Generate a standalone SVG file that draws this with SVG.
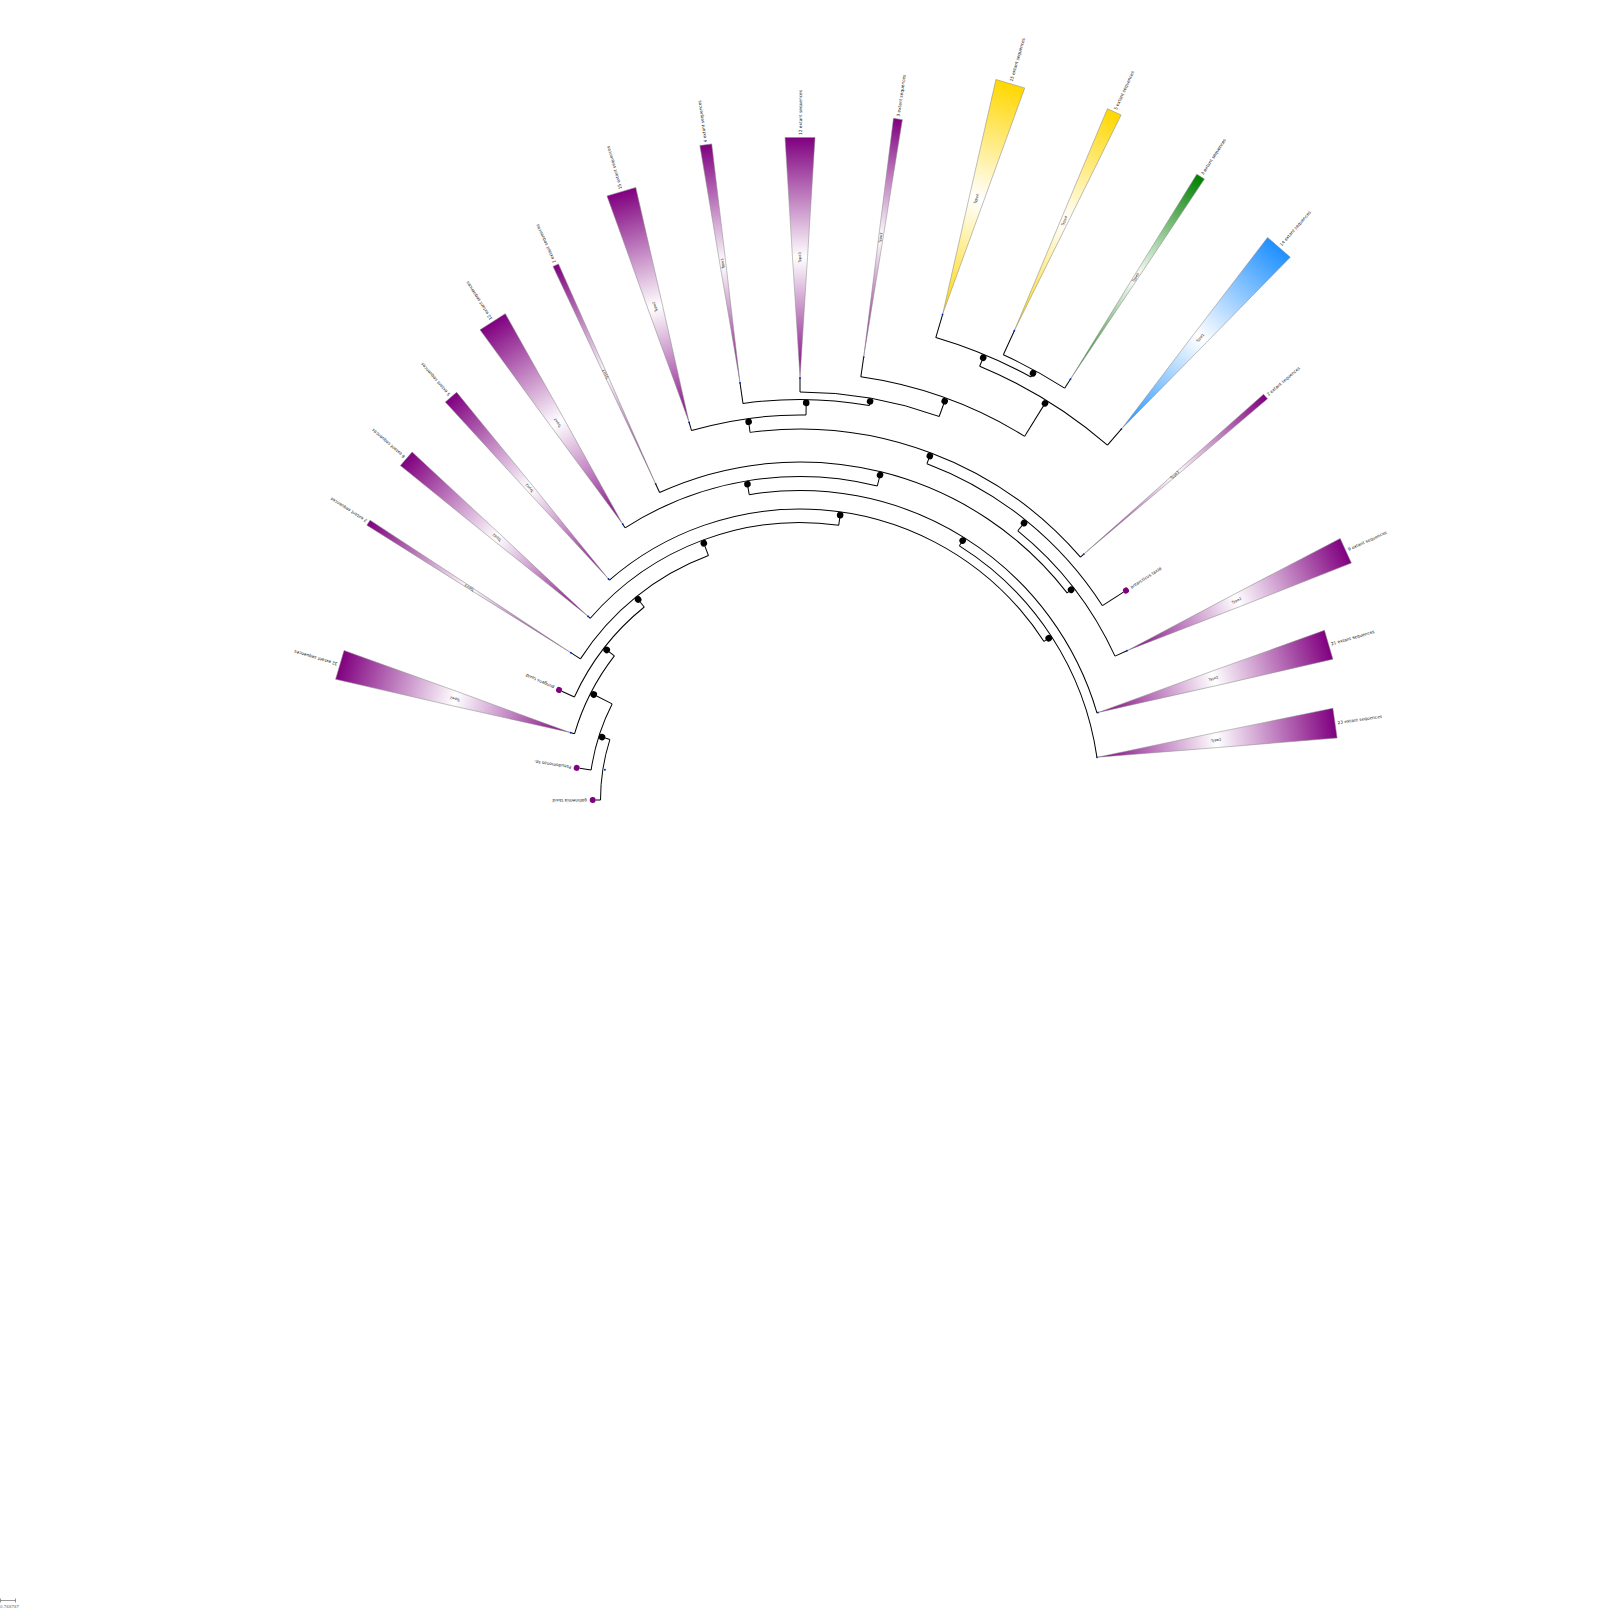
<svg xmlns="http://www.w3.org/2000/svg" width="1600" height="1614" viewBox="0 0 1600 1614">
<defs>
<style>
.arc{fill:none;stroke:#000;stroke-width:1}
.br{stroke:#000;stroke-width:1}
.nd{fill:#000}
.lf{fill:#800080}
.tip{fill:#0030c1}
.tri{stroke:#8a8a8a;stroke-width:0.5}
.lab{font-family:"DejaVu Sans",sans-serif;font-size:4.3px;fill:#222;dominant-baseline:central}
.typ{font-family:"DejaVu Sans",sans-serif;font-size:3.5px;fill:#222;text-anchor:middle;dominant-baseline:central}
</style>
<linearGradient id="gP"><stop offset="0" stop-color="#800080"/><stop offset="0.5" stop-color="#fff"/><stop offset="1" stop-color="#800080"/></linearGradient>
<linearGradient id="gY"><stop offset="0" stop-color="#ffd700"/><stop offset="0.5" stop-color="#fff"/><stop offset="1" stop-color="#ffd700"/></linearGradient>
<linearGradient id="gG"><stop offset="0" stop-color="#008000"/><stop offset="0.5" stop-color="#fff"/><stop offset="1" stop-color="#008000"/></linearGradient>
<linearGradient id="gB"><stop offset="0" stop-color="#1e90ff"/><stop offset="0.5" stop-color="#fff"/><stop offset="1" stop-color="#1e90ff"/></linearGradient>
</defs>
<rect width="1600" height="1614" fill="#fff"/>

<g id="connectors">
<circle class="arc" cx="800" cy="800" r="199.5" stroke-dasharray="61.41 4000" transform="rotate(180 800 800)"/>
<circle class="arc" cx="800" cy="800" r="211" stroke-dasharray="69.64 4000" transform="rotate(188.182 800 800)"/>
<circle class="arc" cx="800" cy="800" r="235" stroke-dasharray="88.01 4000" transform="rotate(196.364 800 800)"/>
<circle class="arc" cx="800" cy="800" r="248" stroke-dasharray="114.93 4000" transform="rotate(204.545 800 800)"/>
<circle class="arc" cx="800" cy="800" r="261" stroke-dasharray="167.36 4000" transform="rotate(212.727 800 800)"/>
<circle class="arc" cx="800" cy="800" r="277.5" stroke-dasharray="276.62 4000" transform="rotate(220.909 800 800)"/>
<circle class="arc" cx="800" cy="800" r="291" stroke-dasharray="497.05 4000" transform="rotate(229.091 800 800)"/>
<circle class="arc" cx="800" cy="800" r="300" stroke-dasharray="260.35 4000" transform="rotate(302.095 800 800)"/>
<circle class="arc" cx="800" cy="800" r="309.5" stroke-dasharray="448.79 4000" transform="rotate(260.554 800 800)"/>
<circle class="arc" cx="800" cy="800" r="323.5" stroke-dasharray="262.90 4000" transform="rotate(237.273 800 800)"/>
<circle class="arc" cx="800" cy="800" r="338" stroke-dasharray="452.82 4000" transform="rotate(245.455 800 800)"/>
<circle class="arc" cx="800" cy="800" r="346.3" stroke-dasharray="160.04 4000" transform="rotate(308.976 800 800)"/>
<circle class="arc" cx="800" cy="800" r="359.5" stroke-dasharray="229.61 4000" transform="rotate(290.678 800 800)"/>
<circle class="arc" cx="800" cy="800" r="371" stroke-dasharray="367.95 4000" transform="rotate(262.266 800 800)"/>
<circle class="arc" cx="800" cy="800" r="385" stroke-dasharray="115.97 4000" transform="rotate(253.636 800 800)"/>
<circle class="arc" cx="800" cy="800" r="400.5" stroke-dasharray="126.90 4000" transform="rotate(261.818 800 800)"/>
<circle class="arc" cx="800" cy="800" r="408" stroke-dasharray="142.01 4000" transform="rotate(270 800 800)"/>
<circle class="arc" cx="800" cy="800" r="427.5" stroke-dasharray="175.51 4000" transform="rotate(278.182 800 800)"/>
<circle class="arc" cx="800" cy="800" r="469.5" stroke-dasharray="150.85 4000" transform="rotate(292.5 800 800)"/>
<circle class="arc" cx="800" cy="800" r="482" stroke-dasharray="103.24 4000" transform="rotate(286.364 800 800)"/>
<circle class="arc" cx="800" cy="800" r="489.5" stroke-dasharray="69.90 4000" transform="rotate(294.545 800 800)"/>

<line class="br" x1="999.5" y1="800" x2="1007.7" y2="800" transform="rotate(197.637 800 800)"/>
<line class="br" x1="1011" y1="800" x2="1031.7" y2="800" transform="rotate(207.092 800 800)"/>
<line class="br" x1="1035" y1="800" x2="1044.7" y2="800" transform="rotate(217.821 800 800)"/>
<line class="br" x1="1048" y1="800" x2="1057.7" y2="800" transform="rotate(231.097 800 800)"/>
<line class="br" x1="1061" y1="800" x2="1074.2" y2="800" transform="rotate(249.466 800 800)"/>
<line class="br" x1="1077.5" y1="800" x2="1087.7" y2="800" transform="rotate(278.024 800 800)"/>
<line class="br" x1="1091" y1="800" x2="1096.7" y2="800" transform="rotate(326.957 800 800)"/>
<line class="br" x1="1100" y1="800" x2="1106.2" y2="800" transform="rotate(302.095 800 800)"/>
<line class="br" x1="1109.5" y1="800" x2="1120.2" y2="800" transform="rotate(260.554 800 800)"/>
<line class="br" x1="1123.5" y1="800" x2="1134.7" y2="800" transform="rotate(283.835 800 800)"/>
<line class="br" x1="1138" y1="800" x2="1143" y2="800" transform="rotate(322.215 800 800)"/>
<line class="br" x1="1146.3" y1="800" x2="1156.2" y2="800" transform="rotate(308.976 800 800)"/>
<line class="br" x1="1159.5" y1="800" x2="1167.7" y2="800" transform="rotate(290.678 800 800)"/>
<line class="br" x1="1171" y1="800" x2="1181.7" y2="800" transform="rotate(262.266 800 800)"/>
<line class="br" x1="1185" y1="800" x2="1197.2" y2="800" transform="rotate(270.895 800 800)"/>
<line class="br" x1="1200.5" y1="800" x2="1204.7" y2="800" transform="rotate(279.972 800 800)"/>
<line class="br" x1="1208" y1="800" x2="1224.2" y2="800" transform="rotate(289.943 800 800)"/>
<line class="br" x1="1227.5" y1="800" x2="1266.2" y2="800" transform="rotate(301.705 800 800)"/>
<line class="br" x1="1269.5" y1="800" x2="1278.7" y2="800" transform="rotate(292.5 800 800)"/>
<line class="br" x1="1282" y1="800" x2="1286.2" y2="800" transform="rotate(298.636 800 800)"/>

<line class="br" x1="999.5" y1="800" x2="1004.3" y2="800" transform="rotate(180 800 800)"/>
<line class="br" x1="1011" y1="800" x2="1022.6" y2="800" transform="rotate(188.182 800 800)"/>
<line class="br" x1="1035" y1="800" x2="1039.6" y2="800" transform="rotate(196.364 800 800)"/>
<line class="br" x1="1048" y1="800" x2="1061.9" y2="800" transform="rotate(204.545 800 800)"/>
<line class="br" x1="1061" y1="800" x2="1073" y2="800" transform="rotate(212.727 800 800)"/>
<line class="br" x1="1077.5" y1="800" x2="1081" y2="800" transform="rotate(220.909 800 800)"/>
<line class="br" x1="1091" y1="800" x2="1093" y2="800" transform="rotate(229.091 800 800)"/>
<line class="br" x1="1123.5" y1="800" x2="1128.5" y2="800" transform="rotate(237.273 800 800)"/>
<line class="br" x1="1138" y1="800" x2="1148" y2="800" transform="rotate(245.455 800 800)"/>
<line class="br" x1="1185" y1="800" x2="1194" y2="800" transform="rotate(253.636 800 800)"/>
<line class="br" x1="1200.5" y1="800" x2="1222" y2="800" transform="rotate(261.818 800 800)"/>
<line class="br" x1="1208" y1="800" x2="1222.5" y2="800" transform="rotate(270 800 800)"/>
<line class="br" x1="1227.5" y1="800" x2="1248" y2="800" transform="rotate(278.182 800 800)"/>
<line class="br" x1="1282" y1="800" x2="1306.5" y2="800" transform="rotate(286.364 800 800)"/>
<line class="br" x1="1289.5" y1="800" x2="1316.5" y2="800" transform="rotate(294.545 800 800)"/>
<line class="br" x1="1289.5" y1="800" x2="1301" y2="800" transform="rotate(302.727 800 800)"/>
<line class="br" x1="1269.5" y1="800" x2="1291.3" y2="800" transform="rotate(310.909 800 800)"/>
<line class="br" x1="1171" y1="800" x2="1176" y2="800" transform="rotate(319.091 800 800)"/>
<line class="br" x1="1159.5" y1="800" x2="1184.5" y2="800" transform="rotate(327.273 800 800)"/>
<line class="br" x1="1146.3" y1="800" x2="1160" y2="800" transform="rotate(335.455 800 800)"/>
<line class="br" x1="1109.5" y1="800" x2="1111" y2="800" transform="rotate(343.636 800 800)"/>
<line class="br" x1="1100" y1="800" x2="1100.5" y2="800" transform="rotate(351.818 800 800)"/>
</g>

<g id="internal-nodes">
<circle id="root" class="tip" cx="997.5" cy="800" r="1" transform="rotate(188.818 800 800)"/>
<circle id="n1" class="nd" cx="1007.7" cy="800" r="3.3" transform="rotate(197.637 800 800)"/>
<circle id="n2" class="nd" cx="1031.7" cy="800" r="3.3" transform="rotate(207.092 800 800)"/>
<circle id="n3" class="nd" cx="1044.7" cy="800" r="3.3" transform="rotate(217.821 800 800)"/>
<circle id="n4" class="nd" cx="1057.7" cy="800" r="3.3" transform="rotate(231.097 800 800)"/>
<circle id="n5" class="nd" cx="1074.2" cy="800" r="3.3" transform="rotate(249.466 800 800)"/>
<circle id="n6" class="nd" cx="1087.7" cy="800" r="3.3" transform="rotate(278.024 800 800)"/>
<circle id="n20" class="nd" cx="1096.7" cy="800" r="3.3" transform="rotate(326.957 800 800)"/>
<circle id="n19" class="nd" cx="1106.2" cy="800" r="3.3" transform="rotate(302.095 800 800)"/>
<circle id="n7" class="nd" cx="1120.2" cy="800" r="3.3" transform="rotate(260.554 800 800)"/>
<circle id="n8" class="nd" cx="1134.7" cy="800" r="3.3" transform="rotate(283.835 800 800)"/>
<circle id="n18" class="nd" cx="1143" cy="800" r="3.3" transform="rotate(322.215 800 800)"/>
<circle id="n17" class="nd" cx="1156.2" cy="800" r="3.3" transform="rotate(308.976 800 800)"/>
<circle id="n16" class="nd" cx="1167.7" cy="800" r="3.3" transform="rotate(290.678 800 800)"/>
<circle id="n9" class="nd" cx="1181.7" cy="800" r="3.3" transform="rotate(262.266 800 800)"/>
<circle id="n10" class="nd" cx="1197.2" cy="800" r="3.3" transform="rotate(270.895 800 800)"/>
<circle id="n11" class="nd" cx="1204.7" cy="800" r="3.3" transform="rotate(279.972 800 800)"/>
<circle id="n12" class="nd" cx="1224.2" cy="800" r="3.3" transform="rotate(289.943 800 800)"/>
<circle id="n15" class="nd" cx="1266.2" cy="800" r="3.3" transform="rotate(301.705 800 800)"/>
<circle id="n13" class="nd" cx="1278.7" cy="800" r="3.3" transform="rotate(292.5 800 800)"/>
<circle id="n14" class="nd" cx="1286.2" cy="800" r="3.3" transform="rotate(298.636 800 800)"/>
</g>

<g id="leaf-0" transform="rotate(180 800 800)"><circle class="lf" cx="1007.3" cy="800" r="3"/><text class="lab" x="1013" y="800">gallinemia taxid</text></g>
<g id="leaf-1" transform="rotate(188.182 800 800)"><circle class="lf" cx="1025.6" cy="800" r="3"/><text class="lab" x="1031" y="800">Pseudomonas sp.</text></g>
<g id="leaf-2" transform="rotate(196.364 800 800)"><polygon class="tri" fill="url(#gP)" points="1039.6,800 1279.6,785 1279.6,815"/><circle class="tip" cx="1039.1" cy="800" r="0.9"/><text class="typ" x="1159.6" y="800">Type2</text><text class="lab" x="1282.1" y="800">32 extant sequences</text></g>
<g id="leaf-3" transform="rotate(204.545 800 800)"><circle class="lf" cx="1064.9" cy="800" r="3"/><text class="lab" x="1070.5" y="800">pungens taxid</text></g>
<g id="leaf-4" transform="rotate(212.727 800 800)"><polygon class="tri" fill="url(#gP)" points="1073,800 1313,797 1313,803"/><circle class="tip" cx="1072.5" cy="800" r="0.9"/><text class="typ" x="1193" y="800">Type3</text><text class="lab" x="1315.5" y="800">2 extant sequences</text></g>
<g id="leaf-5" transform="rotate(220.909 800 800)"><polygon class="tri" fill="url(#gP)" points="1081,800 1321,791 1321,809"/><circle class="tip" cx="1080.5" cy="800" r="0.9"/><text class="typ" x="1201" y="800">Type2</text><text class="lab" x="1323.5" y="800">6 extant sequences</text></g>
<g id="leaf-6" transform="rotate(229.091 800 800)"><polygon class="tri" fill="url(#gP)" points="1093,800 1333,792.5 1333,807.5"/><circle class="tip" cx="1092.5" cy="800" r="0.9"/><text class="typ" x="1213" y="800">Type2</text><text class="lab" x="1335.5" y="800">5 extant sequences</text></g>
<g id="leaf-7" transform="rotate(237.273 800 800)"><polygon class="tri" fill="url(#gP)" points="1128.5,800 1368.5,785 1368.5,815"/><circle class="tip" cx="1128" cy="800" r="0.9"/><text class="typ" x="1248.5" y="800">Type2</text><text class="lab" x="1371" y="800">12 extant sequences</text></g>
<g id="leaf-8" transform="rotate(245.455 800 800)"><polygon class="tri" fill="url(#gP)" points="1148,800 1388,797 1388,803"/><circle class="tip" cx="1147.5" cy="800" r="0.9"/><text class="typ" x="1268" y="800">Type3</text><text class="lab" x="1390.5" y="800">2 extant sequences</text></g>
<g id="leaf-9" transform="rotate(253.636 800 800)"><polygon class="tri" fill="url(#gP)" points="1194,800 1434,785 1434,815"/><circle class="tip" cx="1193.5" cy="800" r="0.9"/><text class="typ" x="1314" y="800">Type2</text><text class="lab" x="1436.5" y="800">15 extant sequences</text></g>
<g id="leaf-10" transform="rotate(261.818 800 800)"><polygon class="tri" fill="url(#gP)" points="1222,800 1462,794 1462,806"/><circle class="tip" cx="1221.5" cy="800" r="0.9"/><text class="typ" x="1342" y="800">Type3</text><text class="lab" x="1464.5" y="800">4 extant sequences</text></g>
<g id="leaf-11" transform="rotate(270 800 800)"><polygon class="tri" fill="url(#gP)" points="1222.5,800 1462.5,785 1462.5,815"/><circle class="tip" cx="1222" cy="800" r="0.9"/><text class="typ" x="1342.5" y="800">Type3</text><text class="lab" x="1465" y="800">12 extant sequences</text></g>
<g id="leaf-12" transform="rotate(278.182 800 800)"><polygon class="tri" fill="url(#gP)" points="1248,800 1488,795.5 1488,804.5"/><circle class="tip" cx="1247.5" cy="800" r="0.9"/><text class="typ" x="1368" y="800">Type3</text><text class="lab" x="1490.5" y="800">3 extant sequences</text></g>
<g id="leaf-13" transform="rotate(286.364 800 800)"><polygon class="tri" fill="url(#gY)" points="1306.5,800 1546.5,785 1546.5,815"/><circle class="tip" cx="1306" cy="800" r="0.9"/><text class="typ" x="1426.5" y="800">Type4</text><text class="lab" x="1549" y="800">15 extant sequences</text></g>
<g id="leaf-14" transform="rotate(294.545 800 800)"><polygon class="tri" fill="url(#gY)" points="1316.5,800 1556.5,792.5 1556.5,807.5"/><circle class="tip" cx="1316" cy="800" r="0.9"/><text class="typ" x="1436.5" y="800">Type4</text><text class="lab" x="1559" y="800">5 extant sequences</text></g>
<g id="leaf-15" transform="rotate(302.727 800 800)"><polygon class="tri" fill="url(#gG)" points="1301,800 1541,795.5 1541,804.5"/><circle class="tip" cx="1300.5" cy="800" r="0.9"/><text class="typ" x="1421" y="800">Type5</text><text class="lab" x="1543.5" y="800">3 extant sequences</text></g>
<g id="leaf-16" transform="rotate(310.909 800 800)"><polygon class="tri" fill="url(#gB)" points="1291.3,800 1531.3,785 1531.3,815"/><circle class="tip" cx="1290.8" cy="800" r="0.9"/><text class="typ" x="1411.3" y="800">Type1</text><text class="lab" x="1533.8" y="800">14 extant sequences</text></g>
<g id="leaf-17" transform="rotate(319.091 800 800)"><polygon class="tri" fill="url(#gP)" points="1176,800 1416,797 1416,803"/><circle class="tip" cx="1175.5" cy="800" r="0.9"/><text class="typ" x="1296" y="800">Type3</text><text class="lab" x="1418.5" y="800">2 extant sequences</text></g>
<g id="leaf-18" transform="rotate(327.273 800 800)"><circle class="lf" cx="1187.5" cy="800" r="3"/><text class="lab" x="1193" y="800">antarcticus taxid</text></g>
<g id="leaf-19" transform="rotate(335.455 800 800)"><polygon class="tri" fill="url(#gP)" points="1160,800 1400,786.5 1400,813.5"/><circle class="tip" cx="1159.5" cy="800" r="0.9"/><text class="typ" x="1280" y="800">Type2</text><text class="lab" x="1402.5" y="800">9 extant sequences</text></g>
<g id="leaf-20" transform="rotate(343.636 800 800)"><polygon class="tri" fill="url(#gP)" points="1111,800 1351,785 1351,815"/><circle class="tip" cx="1110.5" cy="800" r="0.9"/><text class="typ" x="1231" y="800">Type2</text><text class="lab" x="1353.5" y="800">21 extant sequences</text></g>
<g id="leaf-21" transform="rotate(351.818 800 800)"><polygon class="tri" fill="url(#gP)" points="1100.5,800 1340.5,785 1340.5,815"/><circle class="tip" cx="1100" cy="800" r="0.9"/><text class="typ" x="1220.5" y="800">Type2</text><text class="lab" x="1343" y="800">23 extant sequences</text></g>

<g id="scale-bar">
<path d="M0.5,1598.5 V1602.5 M0.5,1600.5 H15.5 M15.5,1598.5 V1602.5" stroke="#555" stroke-width="0.6" fill="none"/>
<text x="0" y="1606.5" font-family="DejaVu Sans, sans-serif" font-size="4px" fill="#777" dominant-baseline="central">0.788787</text>
</g>
</svg>
